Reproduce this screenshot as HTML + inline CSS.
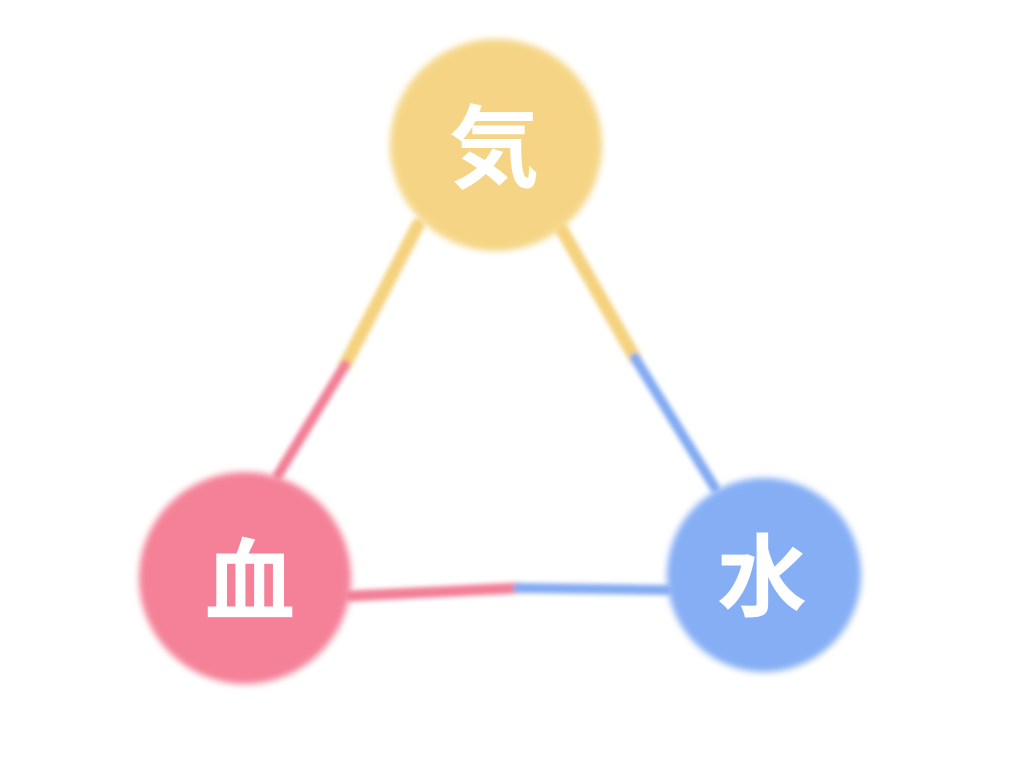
<!DOCTYPE html>
<html><head><meta charset="utf-8"><style>
html,body{margin:0;padding:0;background:#fff;width:1024px;height:768px;overflow:hidden}
</style></head><body>
<svg width="1024" height="768" xmlns="http://www.w3.org/2000/svg">
<defs>
<filter id="b" x="-20%" y="-20%" width="140%" height="140%"><feGaussianBlur stdDeviation="3.5"/></filter>
<filter id="b2" x="-20%" y="-20%" width="140%" height="140%"><feGaussianBlur stdDeviation="2.5"/></filter>
</defs>
<g filter="url(#b2)" stroke-linecap="round" fill="none">
<line x1="418" y1="225" x2="345" y2="365" stroke="#f4d27e" stroke-width="13"/>
<line x1="345" y1="365" x2="278" y2="475" stroke="#f27f96" stroke-width="10"/>
<line x1="562" y1="230" x2="635" y2="358" stroke="#f4d27e" stroke-width="13"/>
<line x1="635" y1="358" x2="715" y2="488" stroke="#82aaf2" stroke-width="10"/>
<line x1="350" y1="596" x2="518" y2="588" stroke="#f27f96" stroke-width="11"/>
<line x1="518" y1="588" x2="668" y2="590" stroke="#82aaf2" stroke-width="10"/>
</g>
<g filter="url(#b)">
<circle cx="496" cy="145" r="106" fill="#f5d585"/>
<circle cx="245" cy="578" r="106" fill="#f48198"/>
<circle cx="764" cy="575" r="97" fill="#85aef5"/>
</g>
<g font-family="'Liberation Sans','Noto Sans CJK JP',sans-serif" font-weight="bold" fill="#fff" text-anchor="middle">
<text x="494" y="180" font-size="90">気</text>
<text x="250" y="613" font-size="90">血</text>
<text x="762" y="609" font-size="90">水</text>
</g>
</svg>
</body></html>
